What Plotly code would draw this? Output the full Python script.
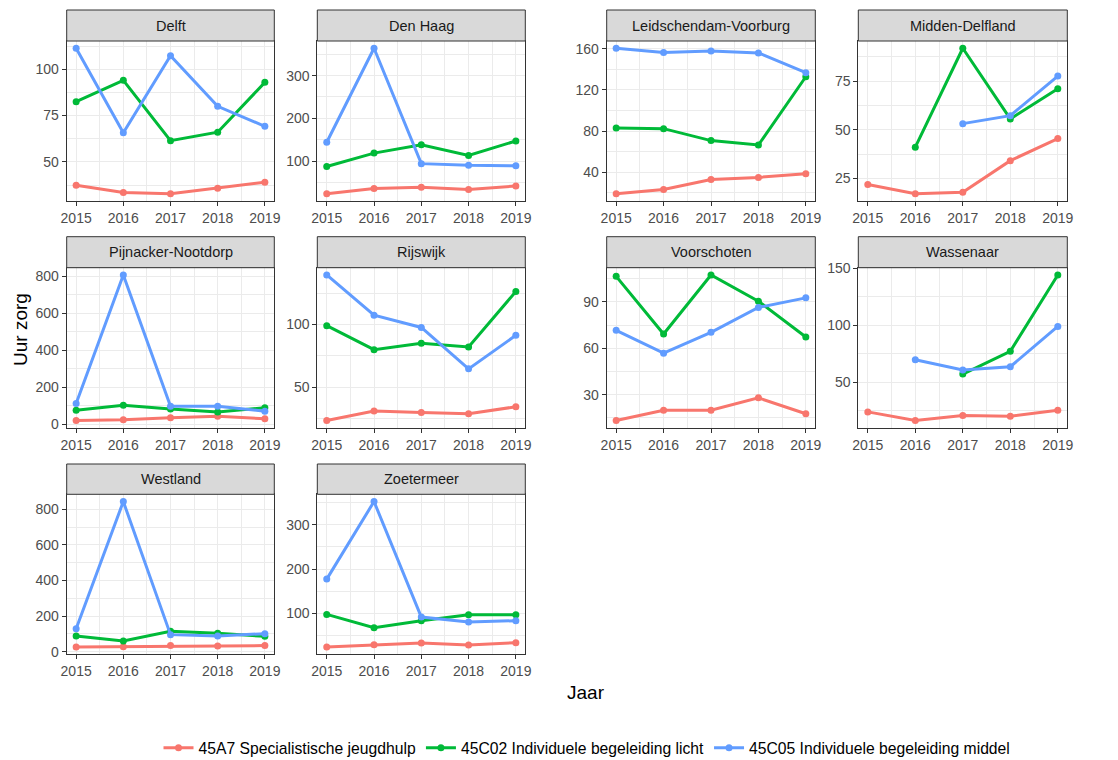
import plotly.graph_objects as go

W, H = 1118, 760

years = [2015, 2016, 2017, 2018, 2019]
gemeenten = ["Delft", "Den Haag", "Leidschendam-Voorburg", "Midden-Delfland",
             "Pijnacker-Nootdorp", "Rijswijk", "Voorschoten", "Wassenaar",
             "Westland", "Zoetermeer"]
series_names = ["45A7 Specialistische jeugdhulp",
                "45C02 Individuele begeleiding licht",
                "45C05 Individuele begeleiding middel"]
series_colors = ["#F8766D", "#00BA38", "#619CFF"]

jeugdhulp_45A7 = {
    "Delft": [37.4, 33.5, 32.8, 35.8, 39.0],
    "Den Haag": [23.6, 36.0, 39.0, 33.6, 41.6],
    "Leidschendam-Voorburg": [19.0, 23.2, 32.9, 34.9, 38.4],
    "Midden-Delfland": [21.9, 17.2, 18.0, 34.2, 45.5],
    "Pijnacker-Nootdorp": [22, 25, 36, 45, 31],
    "Rijswijk": [23.5, 31.0, 29.9, 28.8, 34.4],
    "Voorschoten": [13.3, 19.9, 19.9, 27.9, 17.6],
    "Wassenaar": [24.1, 16.6, 20.9, 20.3, 25.6],
    "Westland": [26, 28, 34, 32, 34],
    "Zoetermeer": [24.0, 29.3, 33.0, 28.6, 33.8],
}
begeleiding_licht_45C02 = {
    "Delft": [82.5, 94.0, 61.4, 66.0, 92.9],
    "Den Haag": [87.4, 118.7, 138.0, 113.0, 147.0],
    "Leidschendam-Voorburg": [83.0, 82.3, 70.7, 66.4, 132.8],
    "Midden-Delfland": [None, 41.1, 91.9, 55.6, 71.1],
    "Pijnacker-Nootdorp": [77, 104, 84, 68, 90],
    "Rijswijk": [99.0, 79.9, 84.9, 82.0, 126.2],
    "Voorschoten": [106.5, 69.2, 107.4, 90.4, 67.3],
    "Wassenaar": [None, None, 57.3, 77.3, 144.2],
    "Westland": [88, 60, 114, 103, 86],
    "Zoetermeer": [97.7, 67.7, 83.5, 97.0, 97.0],
}
begeleiding_middel_45C05 = {
    "Delft": [111.3, 65.7, 107.3, 80.0, 69.2],
    "Den Haag": [144.0, 364.0, 94.0, 90.0, 89.0],
    "Leidschendam-Voorburg": [160.5, 156.5, 157.8, 156.0, 136.7],
    "Midden-Delfland": [None, None, 53.2, 57.3, 77.6],
    "Pijnacker-Nootdorp": [113, 807, 99, 99, 72],
    "Rijswijk": [139.4, 107.4, 97.6, 64.6, 91.3],
    "Voorschoten": [71.6, 56.8, 70.3, 86.4, 92.6],
    "Wassenaar": [None, 69.8, 60.8, 63.7, 99.1],
    "Westland": [129, 843, 95.5, 88, 101],
    "Zoetermeer": [177.4, 352.6, 91.7, 80.5, 83.5],
}
y_tick_step = {
    "Delft": 25, "Den Haag": 100, "Leidschendam-Voorburg": 40,
    "Midden-Delfland": 25, "Pijnacker-Nootdorp": 200, "Rijswijk": 50,
    "Voorschoten": 30, "Wassenaar": 50, "Westland": 200, "Zoetermeer": 100,
}

all_series = [jeugdhulp_45A7, begeleiding_licht_45C02, begeleiding_middel_45C05]

# panel geometry (pixels)
col_x = [(66.7, 274.3), (317.3, 525.3), (606.7, 815.3), (858.3, 1067.3)]
row_y = [(10, 41, 201), (236.7, 267.7, 427.7), (464, 494.3, 654.3)]

FONT = "Liberation Sans, Arial, sans-serif"
GRID = "#EBEBEB"
BORDER = "#333333"

fig = go.Figure()
layout = {}
shapes = []
annotations = []

for i, g in enumerate(gemeenten):
    r, c = divmod(i, 4)
    x0, x1 = col_x[c]
    st, pt, pb = row_y[r]
    ax = "" if i == 0 else str(i + 1)

    vals = [v for s in all_series for v in s[g] if v is not None]
    lo, hi = min(vals), max(vals)
    pad = (hi - lo) * 0.05

    for k, s in enumerate(all_series):
        fig.add_trace(go.Scatter(
            x=years, y=s[g], mode="lines+markers",
            name=series_names[k], legendgroup=series_names[k],
            showlegend=(i == 0),
            line=dict(color=series_colors[k], width=3),
            marker=dict(color=series_colors[k], size=7),
            xaxis="x" + ax, yaxis="y" + ax,
        ))

    step = y_tick_step[g]
    common = dict(
        showgrid=True, gridcolor=GRID, gridwidth=1.3,
        showline=True, mirror=True, linecolor=BORDER, linewidth=1,
        ticks="outside", ticklen=4, tickcolor=BORDER, tickwidth=1,
        tickfont=dict(size=14, color="#4D4D4D", family=FONT),
        zeroline=False, fixedrange=True, automargin=False,
    )
    layout["xaxis" + ax] = dict(
        domain=[x0 / W, x1 / W], anchor="y" + ax, range=[2014.8, 2019.2],
        tickmode="linear", tick0=2015, dtick=1,
        minor=dict(dtick=0.5, tick0=2015, showgrid=True, gridcolor=GRID, gridwidth=0.7),
        **common,
    )
    layout["yaxis" + ax] = dict(
        domain=[1 - pb / H, 1 - pt / H], anchor="x" + ax, range=[lo - pad, hi + pad],
        tickmode="linear", tick0=0, dtick=step,
        minor=dict(dtick=step / 2, tick0=0, showgrid=True, gridcolor=GRID, gridwidth=0.7),
        **common,
    )

    shapes.append(dict(type="rect", xref="paper", yref="paper",
                       x0=x0 / W, x1=x1 / W, y0=1 - pt / H, y1=1 - st / H,
                       fillcolor="#D9D9D9", line=dict(color=BORDER, width=1),
                       layer="above"))
    annotations.append(dict(text=g, xref="paper", yref="paper",
                            x=(x0 + x1) / 2 / W, y=1 - (st + pt) / 2 / H,
                            xanchor="center", yanchor="middle", showarrow=False,
                            font=dict(size=14.5, color="#1A1A1A", family=FONT)))

annotations.append(dict(text="Uur zorg", xref="paper", yref="paper",
                        x=20 / W, y=1 - 330 / H, textangle=-90,
                        xanchor="center", yanchor="middle", showarrow=False,
                        font=dict(size=19, color="black", family=FONT)))
annotations.append(dict(text="Jaar", xref="paper", yref="paper",
                        x=586 / W, y=1 - 692 / H,
                        xanchor="center", yanchor="middle", showarrow=False,
                        font=dict(size=19, color="black", family=FONT)))

fig.update_layout(
    template="none",
    width=W, height=H,
    margin=dict(l=0, r=0, t=0, b=0, autoexpand=False),
    paper_bgcolor="white", plot_bgcolor="white",
    font=dict(family=FONT),
    shapes=shapes, annotations=annotations,
    legend=dict(orientation="h", x=587 / W, xanchor="center",
                y=1 - 748 / H, yanchor="middle",
                font=dict(size=15.7, color="black", family=FONT),
                bgcolor="rgba(0,0,0,0)"),
    **layout,
)

fig.write_html(
    "out.html",
    config={"displayModeBar": False},
    post_script="document.body.style.margin='0';document.body.style.overflow='hidden';",
)
